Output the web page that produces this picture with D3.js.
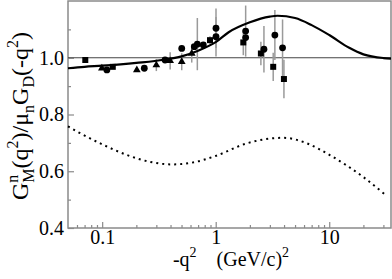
<!DOCTYPE html>
<html>
<head>
<meta charset="utf-8">
<script src="https://cdn.jsdelivr.net/npm/d3@7"></script>
<style>
  body { margin: 0; background: #fff; }
  svg { display: block; font-family: "Liberation Serif", "DejaVu Serif", serif; }
</style>
</head>
<body>
<svg id="chart" width="392" height="279"></svg>
<script>
// data
const squareQ2 = [0.071, 0.124, 0.891, 1.75, 2.5, 3.21, 3.99];
const squareR = [0.992, 0.968, 1.062, 1.054, 1.015, 0.968, 0.925];
const squareErr = [0.008, 0, 0.014, 0.045, 0.041, 0.05, 0.068];

const circleQ2 = [0.110, 0.235, 0.358, 0.502, 0.648, 0.689, 0.778, 1.006, 1.006, 1.836, 1.836, 2.66, 3.32, 3.88];
const circleR = [0.957, 0.963, 0.992, 1.033, 1.039, 1.048, 1.045, 1.074, 1.104, 1.094, 1.071, 1.03, 1.08, 1.035];
const circleErr = [0, 0, 0, 0, 0, 0.092, 0, 0.07, 0.07, 0.09, 0, 0.082, 0.088, 0.1];

const triQ2 = [0.0994, 0.202, 0.30, 0.397, 0.502, 0.615];
const triR = [0.963, 0.957, 0.974, 0.989, 0.986, 1.015];
const triErr = [0, 0, 0.021, 0.03, 0.03, 0.032];

// solid model curve
const fitQ2 = [0.05, 0.07, 0.1, 0.2, 0.35, 0.5, 0.7, 1.0, 1.3, 2.0, 3.0, 3.5, 5, 7, 10, 15, 20, 30, 35];
const fitR = [0.963, 0.968, 0.972, 0.982, 0.993, 1.005, 1.025, 1.055, 1.09, 1.125, 1.145, 1.148, 1.14, 1.115, 1.08, 1.035, 1.012, 0.999, 0.997];

// dotted curve
const dotQ2 = [0.05, 0.064, 0.1, 0.166, 0.264, 0.41, 0.65, 1.0, 1.87, 3.93, 6.5, 10.1, 19.9, 30.8];
const dotR = [0.758, 0.734, 0.695, 0.657, 0.633, 0.624, 0.632, 0.654, 0.698, 0.718, 0.697, 0.657, 0.58, 0.519];

const xMajor = [0.1, 1, 10];
const xMinor = [0.06, 0.07, 0.08, 0.09, 0.2, 0.3, 0.4, 0.5, 0.6, 0.7, 0.8, 0.9, 2, 3, 4, 5, 6, 7, 8, 9, 20, 30];
const yMajor = [0.4, 0.6, 0.8, 1.0];
const yMinor = [0.5, 0.7, 0.9, 1.1];

const margin = { top: 1, right: 1, bottom: 51, left: 68 };
const width = 392, height = 279;

const svg = d3.select("#chart");

const x = d3.scaleLog()
    .domain([0.05, 35])
    .range([margin.left, width - margin.right]);
const y = d3.scaleLinear()
    .domain([0.4, 1.2])
    .range([height - margin.bottom, margin.top]);

const frameColor = "#8a8a8a";

// x axis, ticks pointing inward
svg.append("g")
    .attr("transform", `translate(0,${y(0.4)})`)
    .call(d3.axisBottom(x).tickValues(xMajor).tickSize(-6).tickPadding(2)
        .tickFormat(d3.format("")));
svg.append("g")
    .attr("transform", `translate(0,${y(0.4)})`)
    .call(d3.axisBottom(x).tickValues(xMinor).tickSize(-3).tickFormat(""));

// y axis
svg.append("g")
    .attr("transform", `translate(${x(0.05)},0)`)
    .call(d3.axisLeft(y).tickValues(yMajor).tickSize(-6).tickPadding(4)
        .tickFormat(d3.format(".1f")));
svg.append("g")
    .attr("transform", `translate(${x(0.05)},0)`)
    .call(d3.axisLeft(y).tickValues(yMinor).tickSize(-3).tickFormat(""));

svg.selectAll(".domain").remove();
svg.selectAll(".tick line").attr("stroke", frameColor).attr("stroke-width", 1.2);
svg.selectAll(".tick text")
    .attr("font-family", "Liberation Serif")
    .attr("font-size", 20)
    .attr("fill", "#000");

// frame
svg.append("rect")
    .attr("x", x(0.05))
    .attr("y", y(1.2))
    .attr("width", x(35) - x(0.05))
    .attr("height", y(0.4) - y(1.2))
    .attr("fill", "none")
    .attr("stroke", frameColor)
    .attr("stroke-width", 1.5);

// reference line at 1
svg.append("line")
    .attr("x1", x(0.05)).attr("x2", x(35))
    .attr("y1", y(1)).attr("y2", y(1))
    .attr("stroke", "#444")
    .attr("stroke-width", 1);

const line = d3.line()
    .x(d => x(d[0]))
    .y(d => y(d[1]))
    .curve(d3.curveMonotoneX);

svg.append("path")
    .datum(dotQ2.map((q, i) => [q, dotR[i]]))
    .attr("d", line)
    .attr("fill", "none")
    .attr("stroke", "#000")
    .attr("stroke-width", 2)
    .attr("stroke-dasharray", "2 4");

// error bars
const bars = svg.append("g").attr("stroke", "#9a9a9a").attr("stroke-width", 1.5);
function errorBars(qs, rs, es) {
    qs.forEach((q, i) => {
        if (!es[i]) return;
        bars.append("line")
            .attr("x1", x(q)).attr("x2", x(q))
            .attr("y1", y(rs[i] - es[i])).attr("y2", y(rs[i] + es[i]));
    });
}
errorBars(squareQ2, squareR, squareErr);
errorBars(circleQ2, circleR, circleErr);
errorBars(triQ2, triR, triErr);

svg.append("path")
    .datum(fitQ2.map((q, i) => [q, fitR[i]]))
    .attr("d", line)
    .attr("fill", "none")
    .attr("stroke", "#000")
    .attr("stroke-width", 2.2);

// markers
const marks = svg.append("g").attr("fill", "#000");
marks.selectAll(".sq")
    .data(squareQ2.map((q, i) => [q, squareR[i]]))
    .join("path")
    .attr("transform", d => `translate(${x(d[0])},${y(d[1])})`)
    .attr("d", d3.symbol(d3.symbolSquare, 36));
marks.selectAll(".ci")
    .data(circleQ2.map((q, i) => [q, circleR[i]]))
    .join("circle")
    .attr("cx", d => x(d[0]))
    .attr("cy", d => y(d[1]))
    .attr("r", 3.4);
marks.selectAll(".tr")
    .data(triQ2.map((q, i) => [q, triR[i]]))
    .join("path")
    .attr("transform", d => `translate(${x(d[0])},${y(d[1])})`)
    .attr("d", d3.symbol(d3.symbolTriangle, 26));

// axis titles
const xt = svg.append("text")
    .attr("x", 231)
    .attr("y", 266)
    .attr("text-anchor", "middle")
    .attr("font-size", 20);
xt.append("tspan").text("-q");
xt.append("tspan").attr("dy", -9).attr("font-size", 14).text("2");
xt.append("tspan").attr("dy", 9).text("\u2003(GeV/c)");
xt.append("tspan").attr("dy", -9).attr("font-size", 14).text("2");

const yt = svg.append("text")
    .attr("transform", "translate(28,116) rotate(-90)")
    .attr("text-anchor", "middle")
    .attr("font-size", 24);
yt.append("tspan").text("G");
yt.append("tspan").attr("dy", -10).attr("font-size", 16).text("n");
yt.append("tspan").attr("dx", -8).attr("dy", 16).attr("font-size", 16).text("M");
yt.append("tspan").attr("dy", -6).text("(q");
yt.append("tspan").attr("dy", -10).attr("font-size", 16).text("2");
yt.append("tspan").attr("dy", 10).text(")/\u03bc");
yt.append("tspan").attr("dy", 6).attr("font-size", 16).text("n");
yt.append("tspan").attr("dy", -6).text("G");
yt.append("tspan").attr("dy", 6).attr("font-size", 16).text("D");
yt.append("tspan").attr("dy", -6).text("(-q");
yt.append("tspan").attr("dy", -10).attr("font-size", 16).text("2");
yt.append("tspan").attr("dy", 10).text(")");
</script>
</body>
</html>
